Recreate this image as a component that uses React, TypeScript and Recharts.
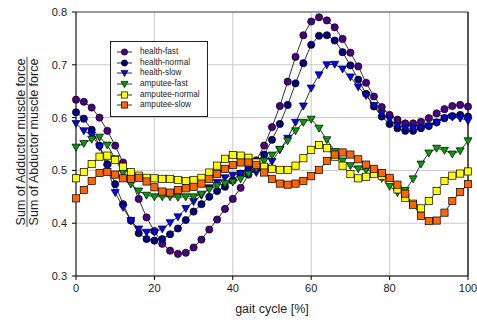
import React from 'react';
import { LineChart, Line, XAxis, YAxis, CartesianGrid, Legend, ReferenceLine } from 'recharts';

const gaitCycle = [0, 2, 4, 6, 8, 10, 12, 14, 16, 18, 20, 22, 24, 26, 28, 30, 32, 34, 36, 38, 40, 42, 44, 46, 48, 50,
    52, 54, 56, 58, 60, 62, 64, 66, 68, 70, 72, 74, 76, 78, 80, 82, 84, 86, 88, 90, 92, 94, 96, 98, 100];

const healthFast = [0.634, 0.630, 0.619, 0.600, 0.575, 0.547, 0.515, 0.482, 0.446, 0.411, 0.385, 0.361, 0.348, 0.342,
    0.344, 0.354, 0.369, 0.388, 0.407, 0.427, 0.446, 0.467, 0.492, 0.519, 0.547, 0.582, 0.622, 0.668, 0.715, 0.756,
    0.782, 0.790, 0.784, 0.771, 0.749, 0.723, 0.697, 0.666, 0.640, 0.620, 0.605, 0.596, 0.589, 0.589, 0.592, 0.599,
    0.608, 0.616, 0.622, 0.624, 0.621];
const healthNormal = [0.610, 0.598, 0.577, 0.547, 0.512, 0.474, 0.436, 0.405, 0.381, 0.370, 0.367, 0.370, 0.379, 0.390,
    0.406, 0.422, 0.436, 0.450, 0.461, 0.469, 0.481, 0.494, 0.505, 0.516, 0.530, 0.558, 0.588, 0.624, 0.665, 0.703,
    0.738, 0.755, 0.756, 0.746, 0.724, 0.699, 0.672, 0.645, 0.621, 0.602, 0.588, 0.580, 0.575, 0.575, 0.580, 0.584,
    0.591, 0.599, 0.603, 0.605, 0.602];
const healthSlow = [0.589, 0.575, 0.567, 0.545, 0.505, 0.458, 0.430, 0.405, 0.389, 0.383, 0.383, 0.389, 0.401, 0.412,
    0.428, 0.441, 0.453, 0.467, 0.477, 0.486, 0.491, 0.494, 0.496, 0.496, 0.503, 0.517, 0.539, 0.561, 0.591, 0.622,
    0.656, 0.681, 0.700, 0.701, 0.692, 0.677, 0.658, 0.642, 0.623, 0.608, 0.597, 0.585, 0.580, 0.580, 0.581, 0.584,
    0.591, 0.599, 0.601, 0.599, 0.594];
const amputeeFast = [0.544, 0.551, 0.559, 0.563, 0.548, 0.522, 0.495, 0.474, 0.461, 0.453, 0.450, 0.450, 0.450, 0.449,
    0.450, 0.450, 0.455, 0.464, 0.471, 0.475, 0.478, 0.484, 0.493, 0.503, 0.518, 0.529, 0.540, 0.556, 0.575, 0.591,
    0.597, 0.580, 0.558, 0.536, 0.518, 0.509, 0.503, 0.501, 0.496, 0.485, 0.470, 0.458, 0.462, 0.484, 0.512, 0.533,
    0.542, 0.538, 0.531, 0.537, 0.556];
const amputeeNormal = [0.485, 0.497, 0.512, 0.526, 0.528, 0.520, 0.507, 0.497, 0.490, 0.486, 0.485, 0.484, 0.484, 0.482,
    0.480, 0.482, 0.486, 0.496, 0.509, 0.522, 0.529, 0.528, 0.524, 0.515, 0.507, 0.503, 0.501, 0.501, 0.509, 0.523,
    0.539, 0.548, 0.542, 0.526, 0.509, 0.493, 0.485, 0.488, 0.493, 0.490, 0.482, 0.464, 0.448, 0.437, 0.428, 0.442,
    0.461, 0.480, 0.490, 0.494, 0.498];
const amputeeSlow = [0.447, 0.463, 0.480, 0.495, 0.497, 0.492, 0.485, 0.484, 0.486, 0.479, 0.468, 0.460, 0.458, 0.463,
    0.466, 0.469, 0.475, 0.484, 0.493, 0.503, 0.510, 0.515, 0.515, 0.510, 0.496, 0.484, 0.475, 0.473, 0.475, 0.480,
    0.489, 0.501, 0.518, 0.530, 0.534, 0.530, 0.521, 0.511, 0.503, 0.495, 0.486, 0.473, 0.456, 0.435, 0.414, 0.404,
    0.405, 0.420, 0.442, 0.459, 0.474];

const xTicks = [0, 20, 40, 60, 80, 100];
const yTicks = [0.3, 0.4, 0.5, 0.6, 0.7, 0.8];

const SERIES = [
    { key: 'healthFast', name: 'health-fast', color: '#4B0082', shape: 'circle', values: healthFast },
    { key: 'healthNormal', name: 'health-normal', color: '#000080', shape: 'circle', values: healthNormal },
    { key: 'healthSlow', name: 'health-slow', color: '#0000FF', shape: 'triangle', values: healthSlow },
    { key: 'amputeeFast', name: 'amputee-fast', color: '#00A000', shape: 'triangle', values: amputeeFast },
    { key: 'amputeeNormal', name: 'amputee-normal', color: '#FFFF00', shape: 'square', values: amputeeNormal },
    { key: 'amputeeSlow', name: 'amputee-slow', color: '#FF6600', shape: 'square', values: amputeeSlow },
];

const data = gaitCycle.map((x, i) => {
    const row: any = { x };
    SERIES.forEach(s => { row[s.key] = s.values[i]; });
    return row;
});

const FONT = '"Liberation Sans", Arial, sans-serif';

const Marker = ({ shape, cx, cy, color, size = 3.6 }: any) => {
    if (shape === 'circle') {
        return <circle cx={cx} cy={cy} r={size} fill={color} stroke="#000" strokeWidth={0.7} />;
    }
    if (shape === 'square') {
        return <rect x={cx - size} y={cy - size} width={size * 2} height={size * 2} fill={color} stroke="#000" strokeWidth={0.7} />;
    }
    const s = size + 0.4;
    return (
        <polygon
            points={`${cx - s},${cy - s * 0.75} ${cx + s},${cy - s * 0.75} ${cx},${cy + s}`}
            fill={color}
            stroke="#000"
            strokeWidth={0.7}
        />
    );
};

const renderLegend = () => (
    <div style={{
        width: 98, height: 76, border: '1px solid #222', background: '#fff',
        fontFamily: FONT, fontSize: 8.2, color: '#222', boxSizing: 'border-box', paddingTop: 5
    }}>
        {SERIES.map(s => (
            <div key={s.key} style={{ height: 10.6, display: 'flex', alignItems: 'center' }}>
                <svg width={28} height={10} style={{ flex: 'none' }}>
                    <line x1={6} y1={5} x2={21} y2={5} stroke="#000" strokeWidth={0.8} />
                    <Marker shape={s.shape} cx={13.5} cy={5} color={s.color} size={3.1} />
                </svg>
                <span style={{ marginLeft: 1, lineHeight: '10px' }}>{s.name}</span>
            </div>
        ))}
    </div>
);

const yTitle = () => (
    <g fontFamily={FONT} fontSize={12.5} fill="#222">
        <text x={25} y={142} textAnchor="middle" transform="rotate(-90, 25, 142)">Sum of Adductor muscle force</text>
        <line x1={27} y1={57} x2={27} y2={227} stroke="#222" strokeWidth={0.8} />
        <text x={38} y={142} textAnchor="middle" transform="rotate(-90, 38, 142)">Sum of Abductor muscle force</text>
    </g>
);

export default function App() {
    return (
        <div style={{ position: 'absolute', left: 0, top: 0, background: '#fff' }}>
            <LineChart width={477} height={322} data={data} margin={{ top: 12, right: 9, bottom: 6, left: 36 }}
                style={{ fontFamily: FONT }}>
                <CartesianGrid stroke="#c8c8c8" strokeWidth={1} />
                <XAxis
                    dataKey="x" type="number" domain={[0, 100]} ticks={xTicks} height={40}
                    stroke="#000" tickSize={4} tickMargin={4}
                    tick={{ fontSize: 11, fill: '#222' }}
                    label={{ value: 'gait cycle [%]', position: 'insideBottom', offset: 3, fontSize: 12.5, fill: '#222' }}
                />
                <YAxis
                    type="number" domain={[0.3, 0.8]} ticks={yTicks} width={40}
                    stroke="#000" tickSize={4} tickMargin={5}
                    tickFormatter={(v: number) => v.toFixed(1)}
                    tick={{ fontSize: 11, fill: '#222' }}
                    label={{ content: yTitle }}
                />
                <ReferenceLine y={0.8} stroke="#808080" strokeWidth={1.5} />
                <ReferenceLine x={100} stroke="#555" strokeWidth={2} />
                {SERIES.map(s => (
                    <Line
                        key={s.key}
                        dataKey={s.key}
                        name={s.name}
                        type="linear"
                        stroke="#000"
                        strokeWidth={0.8}
                        isAnimationActive={false}
                        dot={(p: any) => <Marker key={`${s.key}-${p.index}`} shape={s.shape} cx={p.cx} cy={p.cy} color={s.color} />}
                        activeDot={false}
                    />
                ))}
                <Legend
                    layout="vertical" align="center" verticalAlign="middle"
                    content={renderLegend}
                    wrapperStyle={{ left: 110, top: 41, width: 98, height: 76 }}
                />
            </LineChart>
        </div>
    );
}
